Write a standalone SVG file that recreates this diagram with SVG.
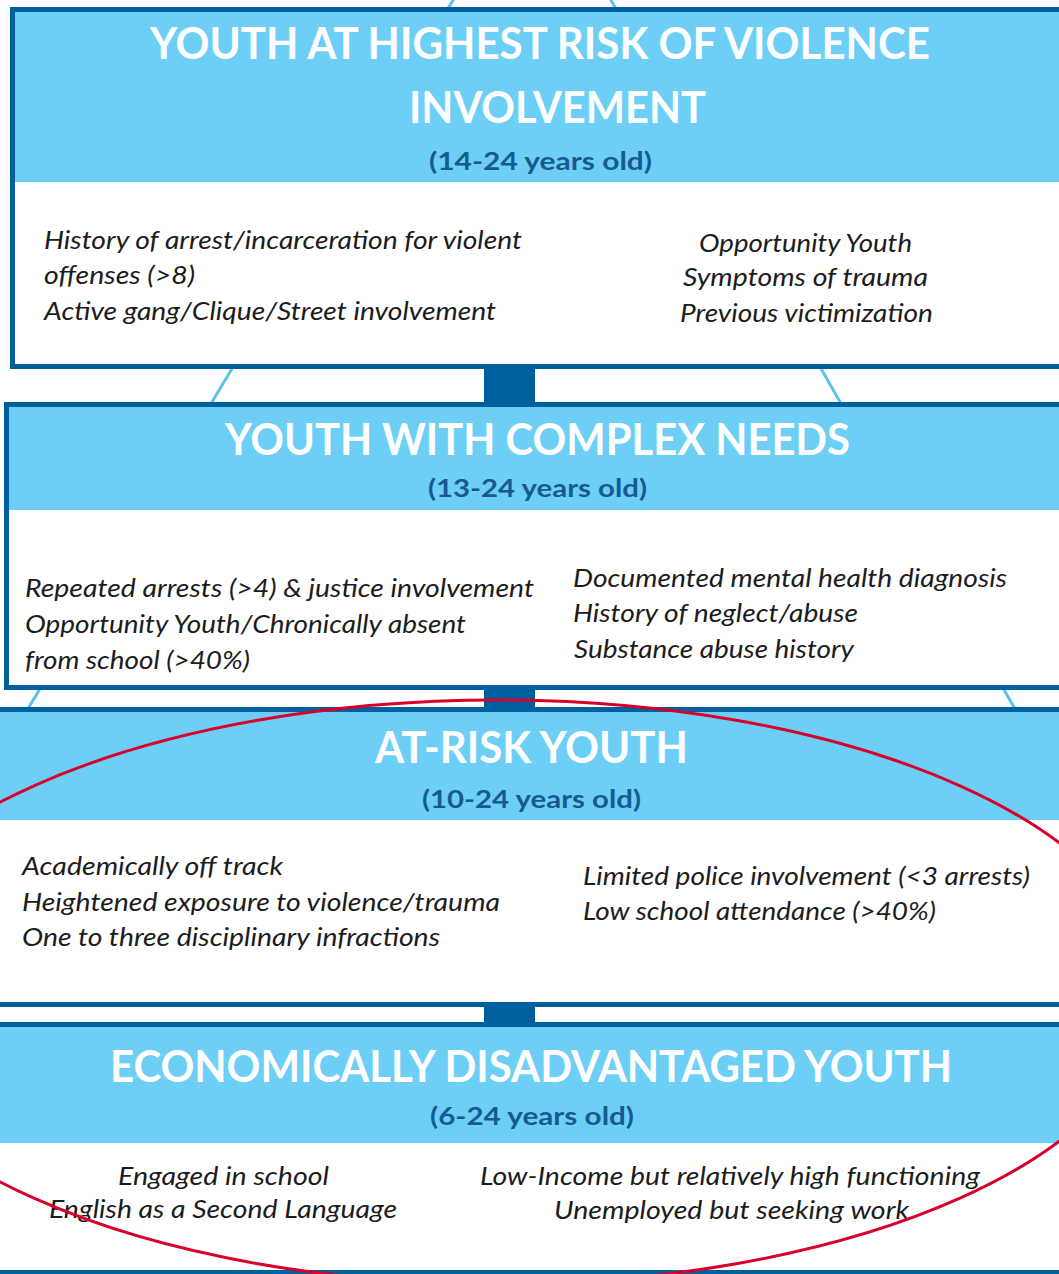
<svg xmlns="http://www.w3.org/2000/svg" width="1059" height="1274" viewBox="0 0 1059 1274">
<style>
.frame{fill:#ffffff;stroke:#00609e;stroke-width:5}
.head{fill:#6dcff6}
.title{font-family:Lato,"Open Sans",sans-serif;font-weight:700;font-size:43px;fill:#ffffff}
.sub{font-family:Lato,"Open Sans",sans-serif;font-weight:700;font-size:25px;fill:#175a93}
.body{font-family:Lato,"Open Sans",sans-serif;font-style:italic;font-size:25px;fill:#1c1c1c}
.tri{stroke:#5bc2ee;stroke-width:3;fill:none}
.bar{fill:#00609e}
</style>
<rect width="1059" height="1274" fill="#ffffff"/>
<g id="triangle">
<line class="tri" x1="534" y1="-135" x2="-311" y2="1274"/>
<line class="tri" x1="534" y1="-135" x2="1337" y2="1274"/>
</g>
<g id="connectors">
<rect class="bar" x="484" y="366" width="51" height="40"/>
<rect class="bar" x="484" y="687" width="51" height="24"/>
<rect class="bar" x="484" y="1004" width="51" height="20"/>
</g>
<g id="node-highest-risk">
<rect class="frame" x="12.5" y="9.5" width="1070" height="357"/>
<rect class="head" x="15" y="12" width="1065" height="170"/>
<text class="title" x="150" y="59" textLength="780" lengthAdjust="spacingAndGlyphs">YOUTH AT HIGHEST RISK OF VIOLENCE</text>
<text class="title" x="409" y="123" textLength="297" lengthAdjust="spacingAndGlyphs">INVOLVEMENT</text>
<text class="sub" x="429" y="170" textLength="223" lengthAdjust="spacingAndGlyphs">(14-24 years old)</text>
<text class="body" x="44" y="249" textLength="478" lengthAdjust="spacingAndGlyphs">History of arrest/incarceration for violent</text>
<text class="body" x="44" y="284" textLength="151" lengthAdjust="spacingAndGlyphs">offenses (&gt;8)</text>
<text class="body" x="44" y="320" textLength="452" lengthAdjust="spacingAndGlyphs">Active gang/Clique/Street involvement</text>
<text class="body" x="699" y="252" textLength="213" lengthAdjust="spacingAndGlyphs">Opportunity Youth</text>
<text class="body" x="683" y="286" textLength="245" lengthAdjust="spacingAndGlyphs">Symptoms of trauma</text>
<text class="body" x="680" y="322" textLength="253" lengthAdjust="spacingAndGlyphs">Previous victimization</text>
</g>
<g id="node-complex-needs">
<rect class="frame" x="6.5" y="404.5" width="1076" height="283"/>
<rect class="head" x="9" y="407" width="1071" height="103"/>
<text class="title" x="225" y="455" textLength="625" lengthAdjust="spacingAndGlyphs">YOUTH WITH COMPLEX NEEDS</text>
<text class="sub" x="428" y="497" textLength="219" lengthAdjust="spacingAndGlyphs">(13-24 years old)</text>
<text class="body" x="25" y="597" textLength="509" lengthAdjust="spacingAndGlyphs">Repeated arrests (&gt;4) &amp; justice involvement</text>
<text class="body" x="25" y="633" textLength="441" lengthAdjust="spacingAndGlyphs">Opportunity Youth/Chronically absent</text>
<text class="body" x="25" y="669" textLength="225" lengthAdjust="spacingAndGlyphs">from school (&gt;40%)</text>
<text class="body" x="573" y="587" textLength="434" lengthAdjust="spacingAndGlyphs">Documented mental health diagnosis</text>
<text class="body" x="573" y="622" textLength="285" lengthAdjust="spacingAndGlyphs">History of neglect/abuse</text>
<text class="body" x="574" y="658" textLength="280" lengthAdjust="spacingAndGlyphs">Substance abuse history</text>
</g>
<g id="node-at-risk">
<rect class="frame" x="-3" y="709.5" width="1085" height="295"/>
<rect class="head" x="-1" y="712" width="1081" height="108"/>
<text class="title" x="375" y="763" textLength="313" lengthAdjust="spacingAndGlyphs">AT-RISK YOUTH</text>
<text class="sub" x="422" y="808" textLength="219" lengthAdjust="spacingAndGlyphs">(10-24 years old)</text>
<text class="body" x="22" y="875" textLength="261" lengthAdjust="spacingAndGlyphs">Academically off track</text>
<text class="body" x="22" y="911" textLength="478" lengthAdjust="spacingAndGlyphs">Heightened exposure to violence/trauma</text>
<text class="body" x="22" y="946" textLength="418" lengthAdjust="spacingAndGlyphs">One to three disciplinary infractions</text>
<text class="body" x="583" y="885" textLength="447" lengthAdjust="spacingAndGlyphs">Limited police involvement (&lt;3 arrests)</text>
<text class="body" x="583" y="920" textLength="353" lengthAdjust="spacingAndGlyphs">Low school attendance (&gt;40%)</text>
</g>
<g id="node-econ-disadvantaged">
<rect class="frame" x="-3" y="1024.5" width="1085" height="248"/>
<rect class="head" x="-1" y="1027" width="1081" height="116"/>
<text class="title" x="110" y="1082" textLength="842" lengthAdjust="spacingAndGlyphs">ECONOMICALLY DISADVANTAGED YOUTH</text>
<text class="sub" x="430" y="1125" textLength="204" lengthAdjust="spacingAndGlyphs">(6-24 years old)</text>
<text class="body" x="118" y="1185" textLength="211" lengthAdjust="spacingAndGlyphs">Engaged in school</text>
<text class="body" x="49" y="1218" textLength="348" lengthAdjust="spacingAndGlyphs">English as a Second Language</text>
<text class="body" x="480" y="1185" textLength="500" lengthAdjust="spacingAndGlyphs">Low-Income but relatively high functioning</text>
<text class="body" x="554" y="1219" textLength="355" lengthAdjust="spacingAndGlyphs">Unemployed but seeking work</text>
</g>
<g id="highlight">
<ellipse cx="497" cy="992" rx="654" ry="292" fill="none" stroke="#d8002b" stroke-width="3"/>
</g>
</svg>
